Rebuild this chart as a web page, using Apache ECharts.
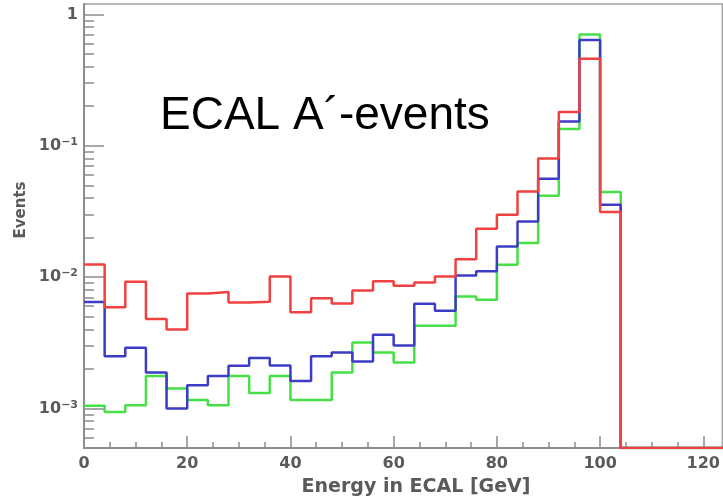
<!DOCTYPE html>
<html>
<head>
<meta charset="utf-8">
<script src="https://cdn.jsdelivr.net/npm/echarts@6/dist/echarts.min.js"></script>
<style>
html, body { margin: 0; padding: 0; background: #fff; }
#echarts_id { width: 723px; height: 501px; }
</style>
</head>
<body>
<div id="echarts_id"></div>
<script>
// bin edges in GeV (bins are 4 GeV wide)
var binEdges = [0, 4, 8, 12, 16, 20, 24, 28, 32, 36, 40, 44, 48, 52, 56, 60, 64, 68, 72, 76, 80, 84, 88, 92, 96, 100, 104, 108, 112, 116, 120, 124];

// events per bin (0 = empty bin)
var redVals = [0.0125, 0.0059, 0.0092, 0.0048, 0.0040, 0.0075, 0.0077, 0.0064, 0.0065, 0.0101, 0.0054, 0.0069, 0.0063, 0.0079, 0.0093, 0.0086, 0.0091, 0.0101, 0.0137, 0.0233, 0.0298, 0.0449, 0.080, 0.181, 0.46, 0.0313, 0, 0, 0, 0, 0];
var blueVals = [0.00645, 0.0025, 0.0029, 0.00188, 0.00100, 0.0015, 0.00177, 0.00211, 0.00242, 0.00212, 0.00162, 0.0025, 0.00267, 0.00228, 0.00364, 0.00301, 0.00626, 0.00554, 0.0103, 0.0111, 0.0171, 0.0265, 0.0561, 0.153, 0.638, 0.0355, 0, 0, 0, 0, 0];
var greenVals = [0.00105, 0.00094, 0.00106, 0.00177, 0.00142, 0.00116, 0.00106, 0.00177, 0.00131, 0.00177, 0.00116, 0.00116, 0.00188, 0.00318, 0.00267, 0.00224, 0.00426, 0.00426, 0.00712, 0.00671, 0.0124, 0.0182, 0.0416, 0.134, 0.704, 0.0444, 0, 0, 0, 0, 0];

// axis ticks
var xMajorTicks = [0, 20, 40, 60, 80, 100, 120];
var xMinorTicks = [5, 10, 15, 25, 30, 35, 45, 50, 55, 65, 70, 75, 85, 90, 95, 105, 110, 115];
var yMinorTicks = [0.0006, 0.0007, 0.0008, 0.0009,
    0.002, 0.003, 0.004, 0.005, 0.006, 0.007, 0.008, 0.009,
    0.02, 0.03, 0.04, 0.05, 0.06, 0.07, 0.08, 0.09,
    0.2, 0.3, 0.4, 0.5, 0.6, 0.7, 0.8, 0.9];

var xMax = 123.7;   // the picture is cut at the right edge
var yMin = 0.0005;
var yMax = 1.2;

// histogram -> step points, empty bins drawn on the floor like ROOT does
function toSteps(vals) {
    var pts = vals.map(function (v, i) {
        return [binEdges[i], v > 0 ? v : yMin];
    });
    pts.push([binEdges[vals.length], pts[pts.length - 1][1]]);
    return pts;
}

var myChart = echarts.init(document.getElementById('echarts_id'));

var axisGray = '#8c8c8c';
var textGray = '#5a5a5a';
var labelStyle = {
    color: textGray,
    fontFamily: 'DejaVu Sans',
    fontWeight: 'bold',
    fontSize: 16
};

function histSeries(name, vals, color) {
    return {
        name: name,
        type: 'line',
        step: 'end',
        showSymbol: false,
        data: toSteps(vals),
        lineStyle: { color: color, width: 2.5 },
        animation: false
    };
}

option = {
    animation: false,
    grid: {
        left: 84, right: 0, top: 4, bottom: 53,
        show: true, borderColor: '#a0a0a0', borderWidth: 1.5
    },
    graphic: [
        {
            type: 'text', left: 160, top: 93,
            style: { text: 'ECAL A\u00B4-events', fontSize: 46, fontFamily: 'Liberation Sans', fill: '#000' }
        },
        {
            type: 'text', x: 416, y: 487,
            style: {
                text: 'Energy in ECAL [GeV]', fontSize: 19, fontWeight: 'bold', fontFamily: 'DejaVu Sans',
                fill: textGray, align: 'center', verticalAlign: 'middle'
            }
        },
        {
            type: 'text', x: 21, y: 210, rotation: Math.PI / 2,
            style: {
                text: 'Events', fontSize: 15, fontWeight: 'bold', fontFamily: 'DejaVu Sans',
                fill: textGray, align: 'center', verticalAlign: 'middle'
            }
        }
    ],
    xAxis: [
        {
            type: 'value',
            min: 0, max: xMax,
            axisLine: { lineStyle: { color: axisGray, width: 2 } },
            axisTick: { inside: true, length: 12, customValues: xMajorTicks, lineStyle: { color: axisGray, width: 1.5 } },
            axisLabel: Object.assign({ margin: 8, customValues: xMajorTicks }, labelStyle),
            splitLine: { show: false }
        },
        {
            type: 'value',
            min: 0, max: xMax,
            position: 'bottom',
            axisLine: { show: false },
            axisTick: { inside: true, length: 6, customValues: xMinorTicks, lineStyle: { color: axisGray, width: 1.5 } },
            axisLabel: { show: false },
            splitLine: { show: false }
        }
    ],
    yAxis: [
        {
            type: 'log', logBase: 10,
            min: yMin, max: yMax,
            axisLine: { show: true, lineStyle: { color: axisGray, width: 2 } },
            axisTick: { inside: true, length: 20, lineStyle: { color: axisGray, width: 1.5 } },
            axisLabel: Object.assign({
                margin: 6,
                showMinLabel: false,
                showMaxLabel: false,
                formatter: function (v) {
                    var e = Math.round(Math.log(v) / Math.LN10);
                    if (e === 0) return '1';
                    return '10{sup|\u2212' + (-e) + '}';
                },
                rich: {
                    sup: { fontSize: 11, fontWeight: 'bold', color: textGray, fontFamily: 'DejaVu Sans', padding: [0, 0, 7, 0] }
                }
            }, labelStyle),
            splitLine: { show: false }
        },
        {
            type: 'log', logBase: 10,
            min: yMin, max: yMax,
            position: 'left',
            axisLine: { show: false },
            axisTick: { inside: true, length: 10, customValues: yMinorTicks, lineStyle: { color: axisGray, width: 1.5 } },
            axisLabel: { show: false },
            splitLine: { show: false }
        }
    ],
    series: [
        histSeries('green', greenVals, '#46e046'),
        histSeries('blue', blueVals, '#3c3cc4'),
        histSeries('red', redVals, '#f04040')
    ]
};

myChart.setOption(option);
</script>
</body>
</html>
